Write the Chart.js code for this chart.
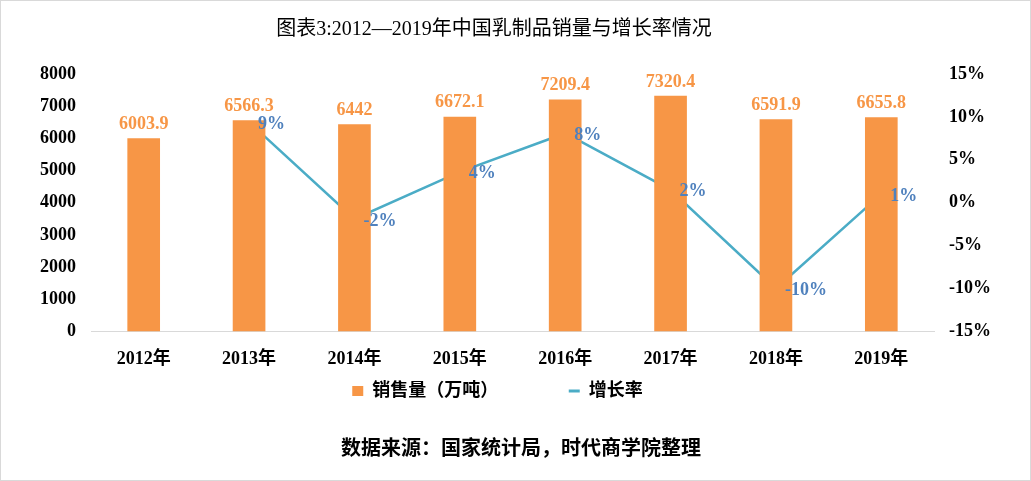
<!DOCTYPE html>
<html>
<head>
<meta charset="utf-8">
<script src="https://cdn.jsdelivr.net/npm/chart.js@4/dist/chart.umd.min.js"></script>
<style>
  html, body { margin: 0; padding: 0; background: #fff; }
  #wrap { position: relative; width: 1031px; height: 481px; box-sizing: border-box; border: 1px solid #d9d9d9; }
  .txt { position: absolute; text-align: center; color: #000;
    font-family: "Liberation Serif", "Noto Sans CJK SC", serif; white-space: nowrap; }
  #title { left: 0; width: 986px; top: 11px; font-size: 20px; }
  #source { left: 0; width: 1040px; top: 431px; font-size: 20px; font-weight: bold; }
</style>
</head>
<body>
<div id="wrap">
  <canvas id="c" width="1029" height="479"></canvas>
  <div id="title" class="txt">图表3:2012—2019年中国乳制品销量与增长率情况</div>
  <div id="source" class="txt">数据来源：国家统计局，时代商学院整理</div>
</div>
<script>
// categories and series
const years = ['2012年', '2013年', '2014年', '2015年', '2016年', '2017年', '2018年', '2019年'];
const sales = [6003.9, 6566.3, 6442, 6672.1, 7209.4, 7320.4, 6591.9, 6655.8];
const growth = [null, 9.4, -1.9, 3.6, 8.1, 1.5, -10.0, 1.0];

const FONT = '"Liberation Serif", "Noto Sans CJK SC", serif';
const ORANGE = '#F79646';
const TEAL = '#4BACC6';

// draws the value labels above bars and beside line points
const valueLabels = {
    id: 'valueLabels',
    afterDatasetsDraw(chart) {
        const ctx = chart.ctx;
        ctx.save();
        ctx.font = 'bold 18px ' + FONT;

        // bars
        chart.getDatasetMeta(0).data.forEach((bar, i) => {
            ctx.fillStyle = ORANGE;
            ctx.textAlign = 'center';
            ctx.textBaseline = 'bottom';
            ctx.fillText(String(sales[i]), bar.x, bar.y - 5);
        });

        // line
        chart.getDatasetMeta(1).data.forEach((pt, i) => {
            if (growth[i] === null) return;
            ctx.fillStyle = '#4F81BD';
            ctx.textAlign = 'left';
            ctx.textBaseline = 'middle';
            ctx.fillText(Math.round(growth[i]) + '%', pt.x + 9, pt.y + 2);
        });
        ctx.restore();
    }
};

new Chart(document.getElementById('c').getContext('2d'), {
    data: {
        labels: years,
        datasets: [{
            type: 'bar',
            label: '销售量（万吨）',
            data: sales,
            backgroundColor: ORANGE,
            barPercentage: 0.31,
            categoryPercentage: 1,
            yAxisID: 'y'
        }, {
            type: 'line',
            label: '增长率',
            data: growth,
            borderColor: TEAL,
            backgroundColor: TEAL,
            borderWidth: 2.5,
            pointRadius: 0,
            tension: 0,
            yAxisID: 'y1'
        }]
    },
    options: {
        responsive: false,
        animation: false,
        layout: { padding: { top: 73, right: 0, bottom: 70, left: 0 } },
        plugins: {
            title: { display: false },
            legend: {
                position: 'bottom',
                labels: {
                    color: '#000',
                    font: { family: FONT, size: 18, weight: 'bold' },
                    usePointStyle: true,
                    boxWidth: 10,
                    boxHeight: 10,
                    pointStyleWidth: 11,
                    padding: 3,
                    generateLabels(chart) {
                        return chart.data.datasets.map((ds, i) => ({
                            // trailing spaces keep the gaps seen in the picture
                            text: ds.type === 'line' ? ds.label + '        ' : ds.label + '               ',
                            fillStyle: ds.type === 'line' ? TEAL : ORANGE,
                            strokeStyle: ds.type === 'line' ? TEAL : ORANGE,
                            lineWidth: ds.type === 'line' ? 3 : 0,
                            pointStyle: ds.type === 'line' ? 'line' : 'rect',
                            fontColor: '#000',
                            datasetIndex: i,
                            hidden: false
                        }));
                    }
                }
            },
            tooltip: { enabled: false }
        },
        scales: {
            x: {
                grid: { display: false },
                border: { color: '#d9d9d9' },
                ticks: { color: '#000', font: { family: FONT, size: 18, weight: 'bold' }, padding: 9 }
            },
            y: {
                position: 'left',
                min: 0,
                max: 8000,
                grid: { display: false, drawTicks: false },
                border: { display: false },
                afterFit(scale) { scale.width = 90; },
                ticks: {
                    stepSize: 1000,
                    color: '#000',
                    padding: 15,
                    font: { family: FONT, size: 18, weight: 'bold' },
                    callback: v => String(v)
                }
            },
            y1: {
                position: 'right',
                min: -15,
                max: 15,
                grid: { display: false, drawTicks: false },
                border: { display: false },
                afterFit(scale) { scale.width = 96; },
                ticks: {
                    stepSize: 5,
                    color: '#000',
                    padding: 15,
                    font: { family: FONT, size: 18, weight: 'bold' },
                    callback: v => v + '%'
                }
            }
        }
    },
    plugins: [valueLabels]
});
</script>
</body>
</html>
